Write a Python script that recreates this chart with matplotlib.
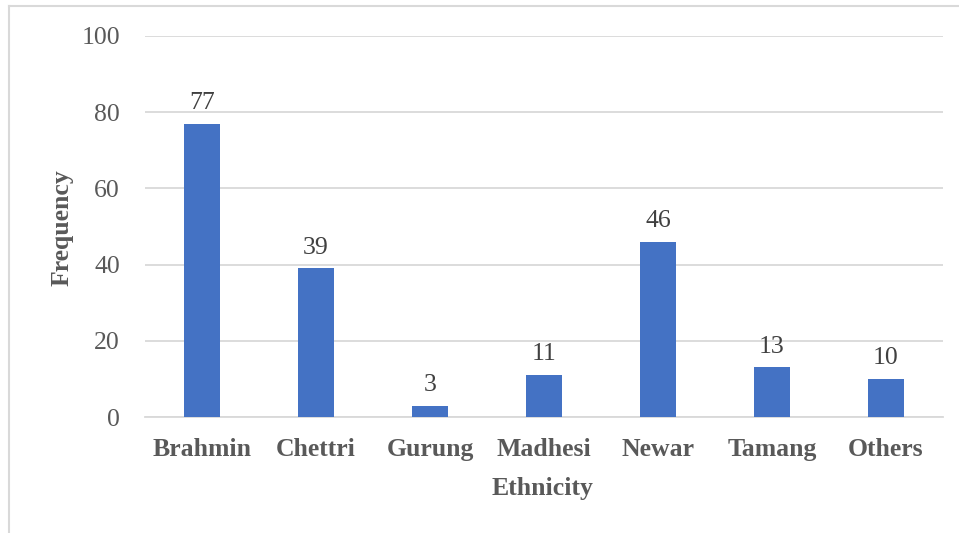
import matplotlib.pyplot as plt
from matplotlib.lines import Line2D

# Данные
ethnicity = ['Brahmin', 'Chettri', 'Gurung', 'Madhesi', 'Newar', 'Tamang', 'Others']
frequency = [77, 39, 3, 11, 46, 13, 10]
y_ticks = [0, 20, 40, 60, 80, 100]

plt.rcParams['font.family'] = ['Liberation Serif', 'DejaVu Serif']

fig = plt.figure(figsize=(9.59, 5.33), dpi=100)
ax = fig.add_axes([145 / 959, 1 - 417 / 533, 798 / 959, 381 / 533])

# Рамка вокруг диаграммы (видны только верх и левый край)
fig.add_artist(Line2D([9 / 959, 1], [1 - 6 / 533, 1 - 6 / 533], color='#d9d9d9', lw=1.5))
fig.add_artist(Line2D([9 / 959, 9 / 959], [0, 1 - 6 / 533], color='#d9d9d9', lw=1.5))

x = range(len(ethnicity))
bars = ax.bar(x, frequency, width=0.315, color='#4472C4', zorder=3)

for b, v in zip(bars, frequency):
    ax.annotate(str(v), (b.get_x() + b.get_width() / 2, v), xytext=(0, 7),
                textcoords='offset points', ha='center', va='bottom',
                fontsize=18.5, color='#404040')

ax.set_xlim(-0.5, len(ethnicity) - 0.5)
ax.set_ylim(0, 100)
ax.set_yticks(y_ticks)
ax.set_xticks(list(x))
ax.set_xticklabels(ethnicity, fontsize=18.5, fontweight='bold', color='#595959')
ax.tick_params(axis='y', labelsize=18.5, labelcolor='#595959', length=0, pad=18)
ax.tick_params(axis='x', length=0, pad=15)

ax.grid(axis='y', color='#d9d9d9', lw=1.3, zorder=0)
for s in ['top', 'right', 'left']:
    ax.spines[s].set_visible(False)
ax.spines['bottom'].set_color('#d9d9d9')
ax.spines['bottom'].set_linewidth(1.3)

# Подписи осей
fig.text(543 / 959, 1 - 488 / 533, 'Ethnicity', fontsize=18.5, fontweight='bold',
         color='#595959', ha='center', va='center')
fig.text(62 / 959, 1 - 228 / 533, 'Frequency', fontsize=18.5, fontweight='bold',
         color='#595959', ha='center', va='center', rotation=90)

fig.savefig('out.png', dpi=100)
